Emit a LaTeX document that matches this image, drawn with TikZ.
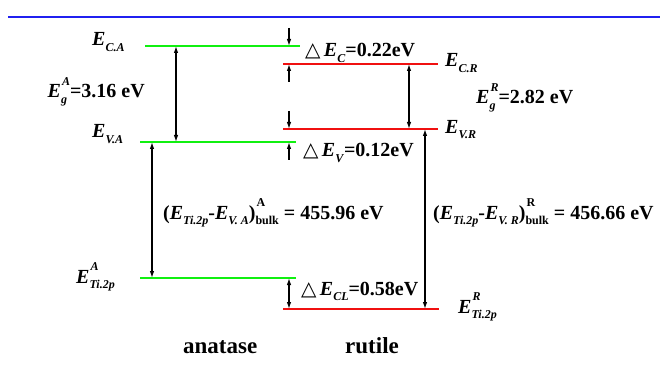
\documentclass[tikz,border=0pt]{standalone}
\usepackage{fontspec}
\setmainfont{Liberation Serif}
\newfontfamily\symfont{DejaVu Sans}
\usetikzlibrary{arrows.meta, positioning}
\definecolor{mBlue}{HTML}{2020F0}
\definecolor{mGreen}{HTML}{10F010}
\definecolor{mRed}{HTML}{F01010}
\newcommand{\subfont}{\fontsize{12}{12}\selectfont}
\newcommand{\sbl}[1]{\raisebox{-0.28em}{\subfont #1}}
\newcommand{\sbsp}[2]{\ooalign{\hspace{1pt}\raisebox{0.62em}{\subfont #1}\cr\raisebox{-0.28em}{\subfont #2}\cr}}
\newcommand{\dlt}{{\symfont\mdseries △}}
\tikzset{
  alevel/.style={mGreen, line width=2pt},
  rlevel/.style={mRed, line width=2pt},
  gaparr/.style={{Latex[length=7pt,width=4.5pt]}-{Latex[length=7pt,width=4.5pt]}, line width=1.2pt},
  offarr/.style={-{Latex[length=7pt,width=4.5pt]}, line width=1.2pt},
  elbl/.style={inner sep=0pt, anchor=base west, font=\fontsize{20}{22}\selectfont\bfseries},
  phase/.style={inner sep=0pt, anchor=base west, font=\fontsize{23}{25}\selectfont\bfseries},
}

\begin{document}
\begin{tikzpicture}[x=1pt, y=-1pt]
    \useasboundingbox (0,0) rectangle (665,369);
    % top rule
    \coordinate (top-l) at (8,17);
    \coordinate (top-r) at (660,17);
    \draw[mBlue, line width=2pt] (top-l) -- (top-r);
    % anatase levels
    \coordinate (ECA-l) at (145,46); \coordinate (ECA-r) at (300,46);
    \coordinate (EVA-l) at (140,142); \coordinate (EVA-r) at (296,142);
    \coordinate (ETA-l) at (140,278); \coordinate (ETA-r) at (296,278);
    \draw[alevel] (ECA-l) -- (ECA-r);
    \draw[alevel] (EVA-l) -- (EVA-r);
    \draw[alevel] (ETA-l) -- (ETA-r);
    % rutile levels
    \coordinate (ECR-l) at (283,64); \coordinate (ECR-r) at (438,64);
    \coordinate (EVR-l) at (283,129); \coordinate (EVR-r) at (438,129);
    \coordinate (ETR-l) at (283,309); \coordinate (ETR-r) at (439,309);
    \draw[rlevel] (ECR-l) -- (ECR-r);
    \draw[rlevel] (EVR-l) -- (EVR-r);
    \draw[rlevel] (ETR-l) -- (ETR-r);
    % arrow columns
    \coordinate (xgA) at (176,0);
    \coordinate (xgR) at (409,0);
    \coordinate (xoff) at (289,0);
    \coordinate (xbA) at (152,0);
    \coordinate (xbR) at (425,0);
    \coordinate (dC-a) at (289,28);
    \coordinate (dC-b) at (289,82);
    \coordinate (dV-a) at (289,111);
    \coordinate (dV-b) at (289,160);
    % gaps
    \draw[gaparr] (xgA |- ECA-l) -- (xgA |- EVA-l);
    \draw[gaparr] (xgR |- ECR-l) -- (xgR |- EVR-l);
    \draw[gaparr] (xbA |- EVA-l) -- (xbA |- ETA-l);
    \draw[gaparr] (xbR |- EVR-l) -- (xbR |- ETR-l);
    \draw[gaparr] (xoff |- ETA-l) -- (xoff |- ETR-l);
    % offsets
    \draw[offarr] (dC-a) -- (xoff |- ECA-l);
    \draw[offarr] (dC-b) -- (xoff |- ECR-l);
    \draw[offarr] (dV-a) -- (xoff |- EVR-l);
    \draw[offarr] (dV-b) -- (xoff |- EVA-l);
    % labels
    \node[elbl] (lECA) at (92,46) {\textit{E}\sbl{\textit{C.A}}};
    \node[elbl, anchor=base east] (lEgA) at (145,98) {\textit{E}\sbsp{\textit{A}}{\textit{g}}=3.16 eV};
    \node[elbl] (lEVA) at (92,138) {\textit{E}\sbl{\textit{V.A}}};
    \node[elbl] (lETA) at (76,283) {\textit{E}\sbsp{\textit{A}}{\textit{Ti.2p}}};
    \node[elbl] (lECR) at (445,67) {\textit{E}\sbl{\textit{C.R}}};
    \node[elbl] (lEgR) at (476,104) {\textit{E}\sbsp{\textit{R}}{\textit{g}}=2.82 eV};
    \node[elbl] (lEVR) at (445,133) {\textit{E}\sbl{\textit{V.R}}};
    \node[elbl] (lETR) at (458,313) {\textit{E}\sbsp{\textit{R}}{\textit{Ti.2p}}};
    \node[elbl] (dEC) at (305,57) {\dlt\,\textit{E}\sbl{\textit{C}}=0.22eV};
    \node[elbl] (dEV) at (303,157) {\dlt\,\textit{E}\sbl{\textit{V}}=0.12eV};
    \node[elbl] (dECL) at (301,295) {\dlt\,\textit{E}\sbl{\textit{CL}}=0.58eV};
    \node[elbl] (bulkA) at (163,219) {(\textit{E}\sbl{\textit{Ti.2p}}-\textit{E}\sbl{\textit{V. A}})\sbsp{A}{bulk}\ = 455.96 eV};
    \node[elbl] (bulkR) at (433,219) {(\textit{E}\sbl{\textit{Ti.2p}}-\textit{E}\sbl{\textit{V. R}})\sbsp{R}{bulk}\ = 456.66 eV};
    \node[phase] (ana) at (183,353) {anatase};
    \node[phase] (rut) at (345,353) {rutile};
\end{tikzpicture}
\end{document}
